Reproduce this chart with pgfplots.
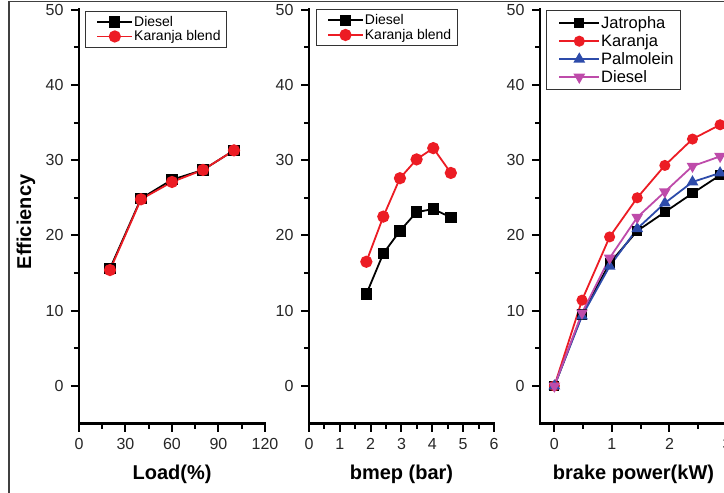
\documentclass[border=0pt]{standalone}
\usepackage{fontspec}
\setmainfont{Liberation Sans}
\usepackage{pgfplots}
\pgfplotsset{compat=1.18}
\definecolor{kred}{RGB}{236,28,36}
\definecolor{pblue}{RGB}{45,75,170}
\definecolor{dmag}{RGB}{190,75,170}

% Origin-like panel: L-shaped axes, outside ticks, no grid
\pgfplotsset{
  panel/.style={
    scale only axis, height=414pt,
    ymin=-5, ymax=50, ytick={0,10,...,50},
    axis x line*=bottom, axis y line*=left,
    axis line style={line width=2.6pt,-,line cap=rect},
    tick align=outside,
    major tick length=8pt, minor tick length=5pt,
    tick style={line width=2pt,black},
    minor x tick num=1, minor y tick num=1,
    tick label style={font=\fontsize{16}{16}\selectfont, text=black!85},
    xticklabel style={yshift=-3pt},
    yticklabel style={xshift=-4pt},
    /pgf/number format/assume math mode=true,
    xlabel style={font=\fontsize{20}{20}\selectfont\bfseries,
      at={(axis description cs:0.5,-0.136)}, anchor=base},
    legend cell align=left,
    legend style={at={(axis description cs:0,1)}, anchor=north west,
      draw=black!80, line width=0.8pt, inner xsep=5pt, inner ysep=4pt,
      nodes={inner sep=1pt}, row sep=1pt},
    every legend image post/.style={line width=1.8pt},
    legend image code/.code={\path (-6pt,0pt);\draw[mark repeat=2,mark phase=2]
      plot coordinates {(0pt,0pt) (17.5pt,0pt) (35pt,0pt)};},
  },
  ser/.style={line width=1.8pt, color=#1, mark options={solid, fill=#1}},
}

\begin{document}
\begin{tikzpicture}
\useasboundingbox (0,0) rectangle (724pt,493pt);
\clip (0,0) rectangle (724pt,493pt);
\draw[line width=1.3pt, black!75] (9pt,-20pt) -- (9pt,491.3pt) -- (800pt,491.3pt);

% panel 1: load
\begin{axis}[panel, at={(79pt,69.4pt)}, anchor=south west, width=186pt,
  xmin=0, xmax=120, xtick={0,30,...,120},
  xlabel={Load(\%)},
  ylabel={Efficiency},
  ylabel style={font=\fontsize{20}{20}\selectfont\bfseries,
    at={(axis description cs:-0.258,0.487)}, anchor=base},
  legend style={xshift=6pt, yshift=-1pt, font=\fontsize{14}{14}\selectfont}]
\addplot[ser=black, mark=square*, mark size=4.8pt] coordinates {
  (20,15.6) (40,24.9) (60,27.4) (80,28.7) (100,31.3)};
\addplot[ser=kred, mark=*, mark size=5.2pt] coordinates {
  (20,15.4) (40,24.8) (60,27.1) (80,28.7) (100,31.3)};
\legend{Diesel, Karanja blend}
\end{axis}

% panel 2: bmep
\begin{axis}[panel, at={(309pt,69.4pt)}, anchor=south west, width=185pt,
  xmin=0, xmax=6, xtick={0,1,...,6},
  xlabel={bmep (bar)},
  legend style={xshift=6.7pt, yshift=0.5pt, font=\fontsize{14}{14}\selectfont}]
\addplot[ser=black, mark=square*, mark size=4.8pt] coordinates {
  (1.86,12.2) (2.41,17.6) (2.95,20.6) (3.49,23.1) (4.03,23.5) (4.6,22.4)};
\addplot[ser=kred, mark=*, mark size=5.2pt] coordinates {
  (1.86,16.5) (2.41,22.5) (2.95,27.6) (3.49,30.1) (4.03,31.6) (4.6,28.3)};
\legend{Diesel, Karanja blend}
\end{axis}

% panel 3: brake power
\begin{axis}[panel, at={(540pt,69.4pt)}, anchor=south west, width=187pt,
  xmin=-0.25, xmax=3, xtick={0,1,2,3},
  xlabel={brake power(kW)},
  legend style={xshift=6pt, yshift=-0.5pt, font=\fontsize{16.5}{16.5}\selectfont,
    inner ysep=5pt, inner xsep=6pt, row sep=2.5pt},
  legend image code/.code={\path (-6pt,0pt);\draw[mark repeat=2,mark phase=2]
    plot coordinates {(0pt,0pt) (20pt,0pt) (40pt,0pt)};}]
\addplot[ser=black, mark=square*, mark size=4.2pt] coordinates {
  (0,0) (0.48,9.5) (0.96,16.3) (1.44,20.6) (1.92,23.1) (2.40,25.6) (2.88,28.0)};
\addplot[ser=kred, mark=*, mark size=4.6pt] coordinates {
  (0,0) (0.48,11.4) (0.96,19.8) (1.44,25.0) (1.92,29.3) (2.40,32.8) (2.88,34.7)};
\addplot[ser=pblue, mark=triangle*, mark size=5pt] coordinates {
  (0,0) (0.48,9.3) (0.96,15.9) (1.44,20.9) (1.92,24.3) (2.40,27.1) (2.88,28.3)};
\addplot[ser=dmag, mark=triangle*, mark size=5pt, mark options={rotate=180}] coordinates {
  (0,0) (0.48,9.7) (0.96,17.0) (1.44,22.4) (1.92,25.8) (2.40,29.2) (2.88,30.5)};
\legend{Jatropha, Karanja, Palmolein, Diesel}
\end{axis}
\end{tikzpicture}
\end{document}
